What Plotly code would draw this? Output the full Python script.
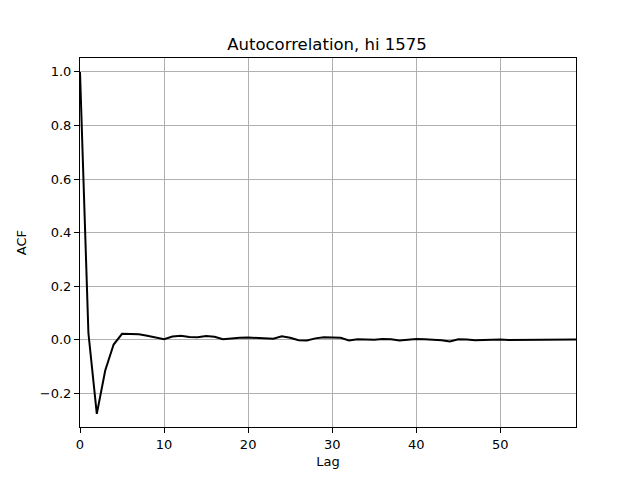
import plotly.graph_objects as go

lags = list(range(60))
acf = [1.0, 0.025, -0.277, -0.115, -0.018, 0.022, 0.021, 0.020, 0.015, 0.008,
       0.002, 0.012, 0.015, 0.010, 0.009, 0.014, 0.011, 0.002, 0.005, 0.007,
       0.008, 0.007, 0.005, 0.004, 0.013, 0.007, -0.002, -0.003, 0.005, 0.009,
       0.008, 0.007, -0.003, 0.002, 0.001, 0.000, 0.003, 0.002, -0.003, 0.001,
       0.003, 0.002, 0.000, -0.002, -0.007, 0.002, 0.001, -0.002, -0.001, 0.000,
       0.001, -0.001, -0.001, 0.000, 0.000, 0.000, -0.001, -0.001, 0.000, 0.001]
xticks = [0, 10, 20, 30, 40, 50]
yticks = [-0.2, 0.0, 0.2, 0.4, 0.6, 0.8, 1.0]

fig = go.Figure()
fig.add_trace(go.Scatter(x=lags, y=acf, mode="lines",
                         line=dict(color="black", width=2), showlegend=False))

axis_common = dict(showline=True, linecolor="black", linewidth=1, mirror=True,
                   ticks="outside", ticklen=5, tickwidth=1, tickcolor="black",
                   showgrid=True, gridcolor="#b0b0b0", gridwidth=1,
                   zeroline=False, tickfont=dict(size=13, color="black"))

# page body has an 8px margin, so the figure is shifted by 8px; compensate
fig.update_layout(
    width=632, height=472,
    margin=dict(l=72, r=64, t=50, b=53),
    paper_bgcolor="white", plot_bgcolor="white",
    font=dict(family="DejaVu Sans", color="black"),
    title=dict(text="Autocorrelation, hi 1575", x=(327 - 8) / 632, xanchor="center",
               y=1 - 36 / 472, yanchor="middle", font=dict(size=16.5)),
    xaxis=dict(range=[0, 59], tickvals=xticks,
               title=dict(text="Lag", font=dict(size=13), standoff=6), **axis_common),
    yaxis=dict(range=[-0.326, 1.052], tickvals=yticks, tickformat=".1f",
               title=dict(text="ACF", font=dict(size=13), standoff=10), **axis_common),
)

fig.write_html("out.html")
